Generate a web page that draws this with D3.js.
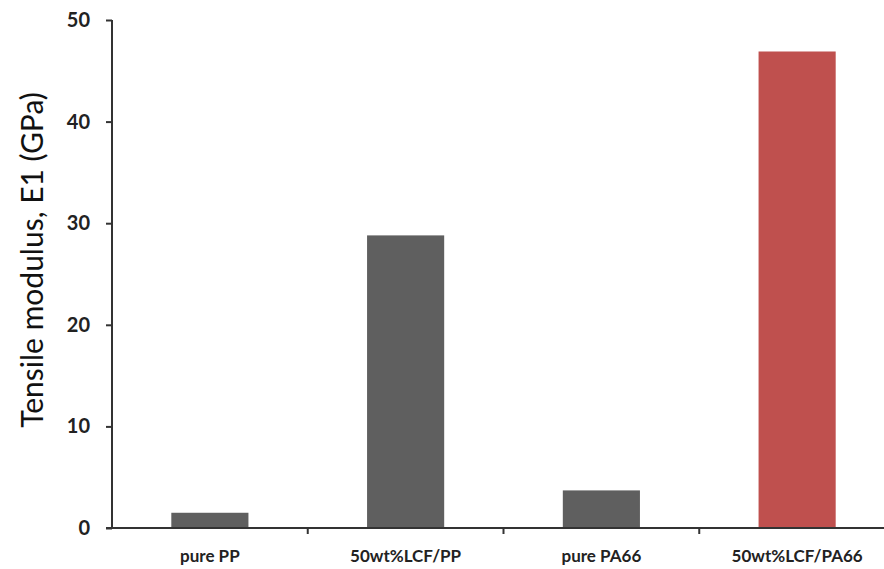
<!DOCTYPE html>
<html><head><meta charset="utf-8">
<script src="https://cdn.jsdelivr.net/npm/d3@7"></script>
<style>html,body{margin:0;padding:0;background:#fff;}svg{display:block;}</style>
</head><body><div id="chart"></div>
<script>
const categories = ["pure PP", "50wt%LCF/PP", "pure PA66", "50wt%LCF/PA66"];
const values = [1.5, 28.8, 3.7, 46.9];
const barColors = ["#5f5f5f", "#5f5f5f", "#5f5f5f", "#bf504e"];
const yTicks = [0, 10, 20, 30, 40, 50];
const yTitle = "Tensile modulus, E1 (GPa)";

const W = 884, H = 569;
const svg = d3.select("#chart").append("svg").attr("width", W).attr("height", H);
const x0 = 112, x1 = 895, yTop = 20, yBot = 528;

const x = d3.scaleBand().domain(categories).range([x0, x1]).padding(0);
const y = d3.scaleLinear().domain([0, 50]).range([yBot, yTop]);
const bw = x.bandwidth() * 0.394;

svg.selectAll("rect.bar").data(categories).join("rect")
  .attr("class", "bar")
  .attr("x", d => x(d) + x.bandwidth() / 2 - bw / 2)
  .attr("width", bw)
  .attr("y", (d, i) => y(values[i]))
  .attr("height", (d, i) => y(0) - y(values[i]))
  .attr("fill", (d, i) => barColors[i]);

// y axis
const yAxis = svg.append("g").attr("transform", `translate(${x0},0)`)
  .call(d3.axisLeft(y).tickValues(yTicks).tickSize(6).tickPadding(16).tickFormat(d3.format("d")));
yAxis.select(".domain").attr("stroke", "#333").attr("stroke-width", 2).attr("d", `M0,${yTop}V${yBot}`);
yAxis.selectAll(".tick line").attr("stroke", "#333").attr("stroke-width", 2);
yAxis.selectAll(".tick text").attr("font-family", "Lato, 'Open Sans', sans-serif")
  .attr("font-weight", "bold").attr("font-size", 20).attr("fill", "#222");

// x axis
const boundaries = categories.map(c => x(c)).concat([x1]);
const xAxis = svg.append("g").attr("transform", `translate(0,${yBot})`);
xAxis.append("line").attr("x1", x0 - 6).attr("x2", W).attr("y1", 0).attr("y2", 0)
  .attr("stroke", "#333").attr("stroke-width", 2);
xAxis.selectAll("line.tk").data(boundaries.slice(1, 4)).join("line").attr("class", "tk")
  .attr("x1", d => d).attr("x2", d => d).attr("y1", 0).attr("y2", 6)
  .attr("stroke", "#333").attr("stroke-width", 2);
xAxis.selectAll("text").data(categories).join("text")
  .attr("x", d => x(d) + x.bandwidth() / 2).attr("y", 34)
  .attr("text-anchor", "middle")
  .attr("font-family", "Lato, 'Open Sans', sans-serif").attr("font-weight", "bold")
  .attr("font-size", 17).attr("fill", "#222").text(d => d);

svg.append("text")
  .attr("transform", `translate(43,260) rotate(-90)`)
  .attr("text-anchor", "middle")
  .attr("font-family", "Lato, 'Open Sans', sans-serif")
  .attr("font-size", 30).attr("fill", "#111").text(yTitle);
</script></body></html>
